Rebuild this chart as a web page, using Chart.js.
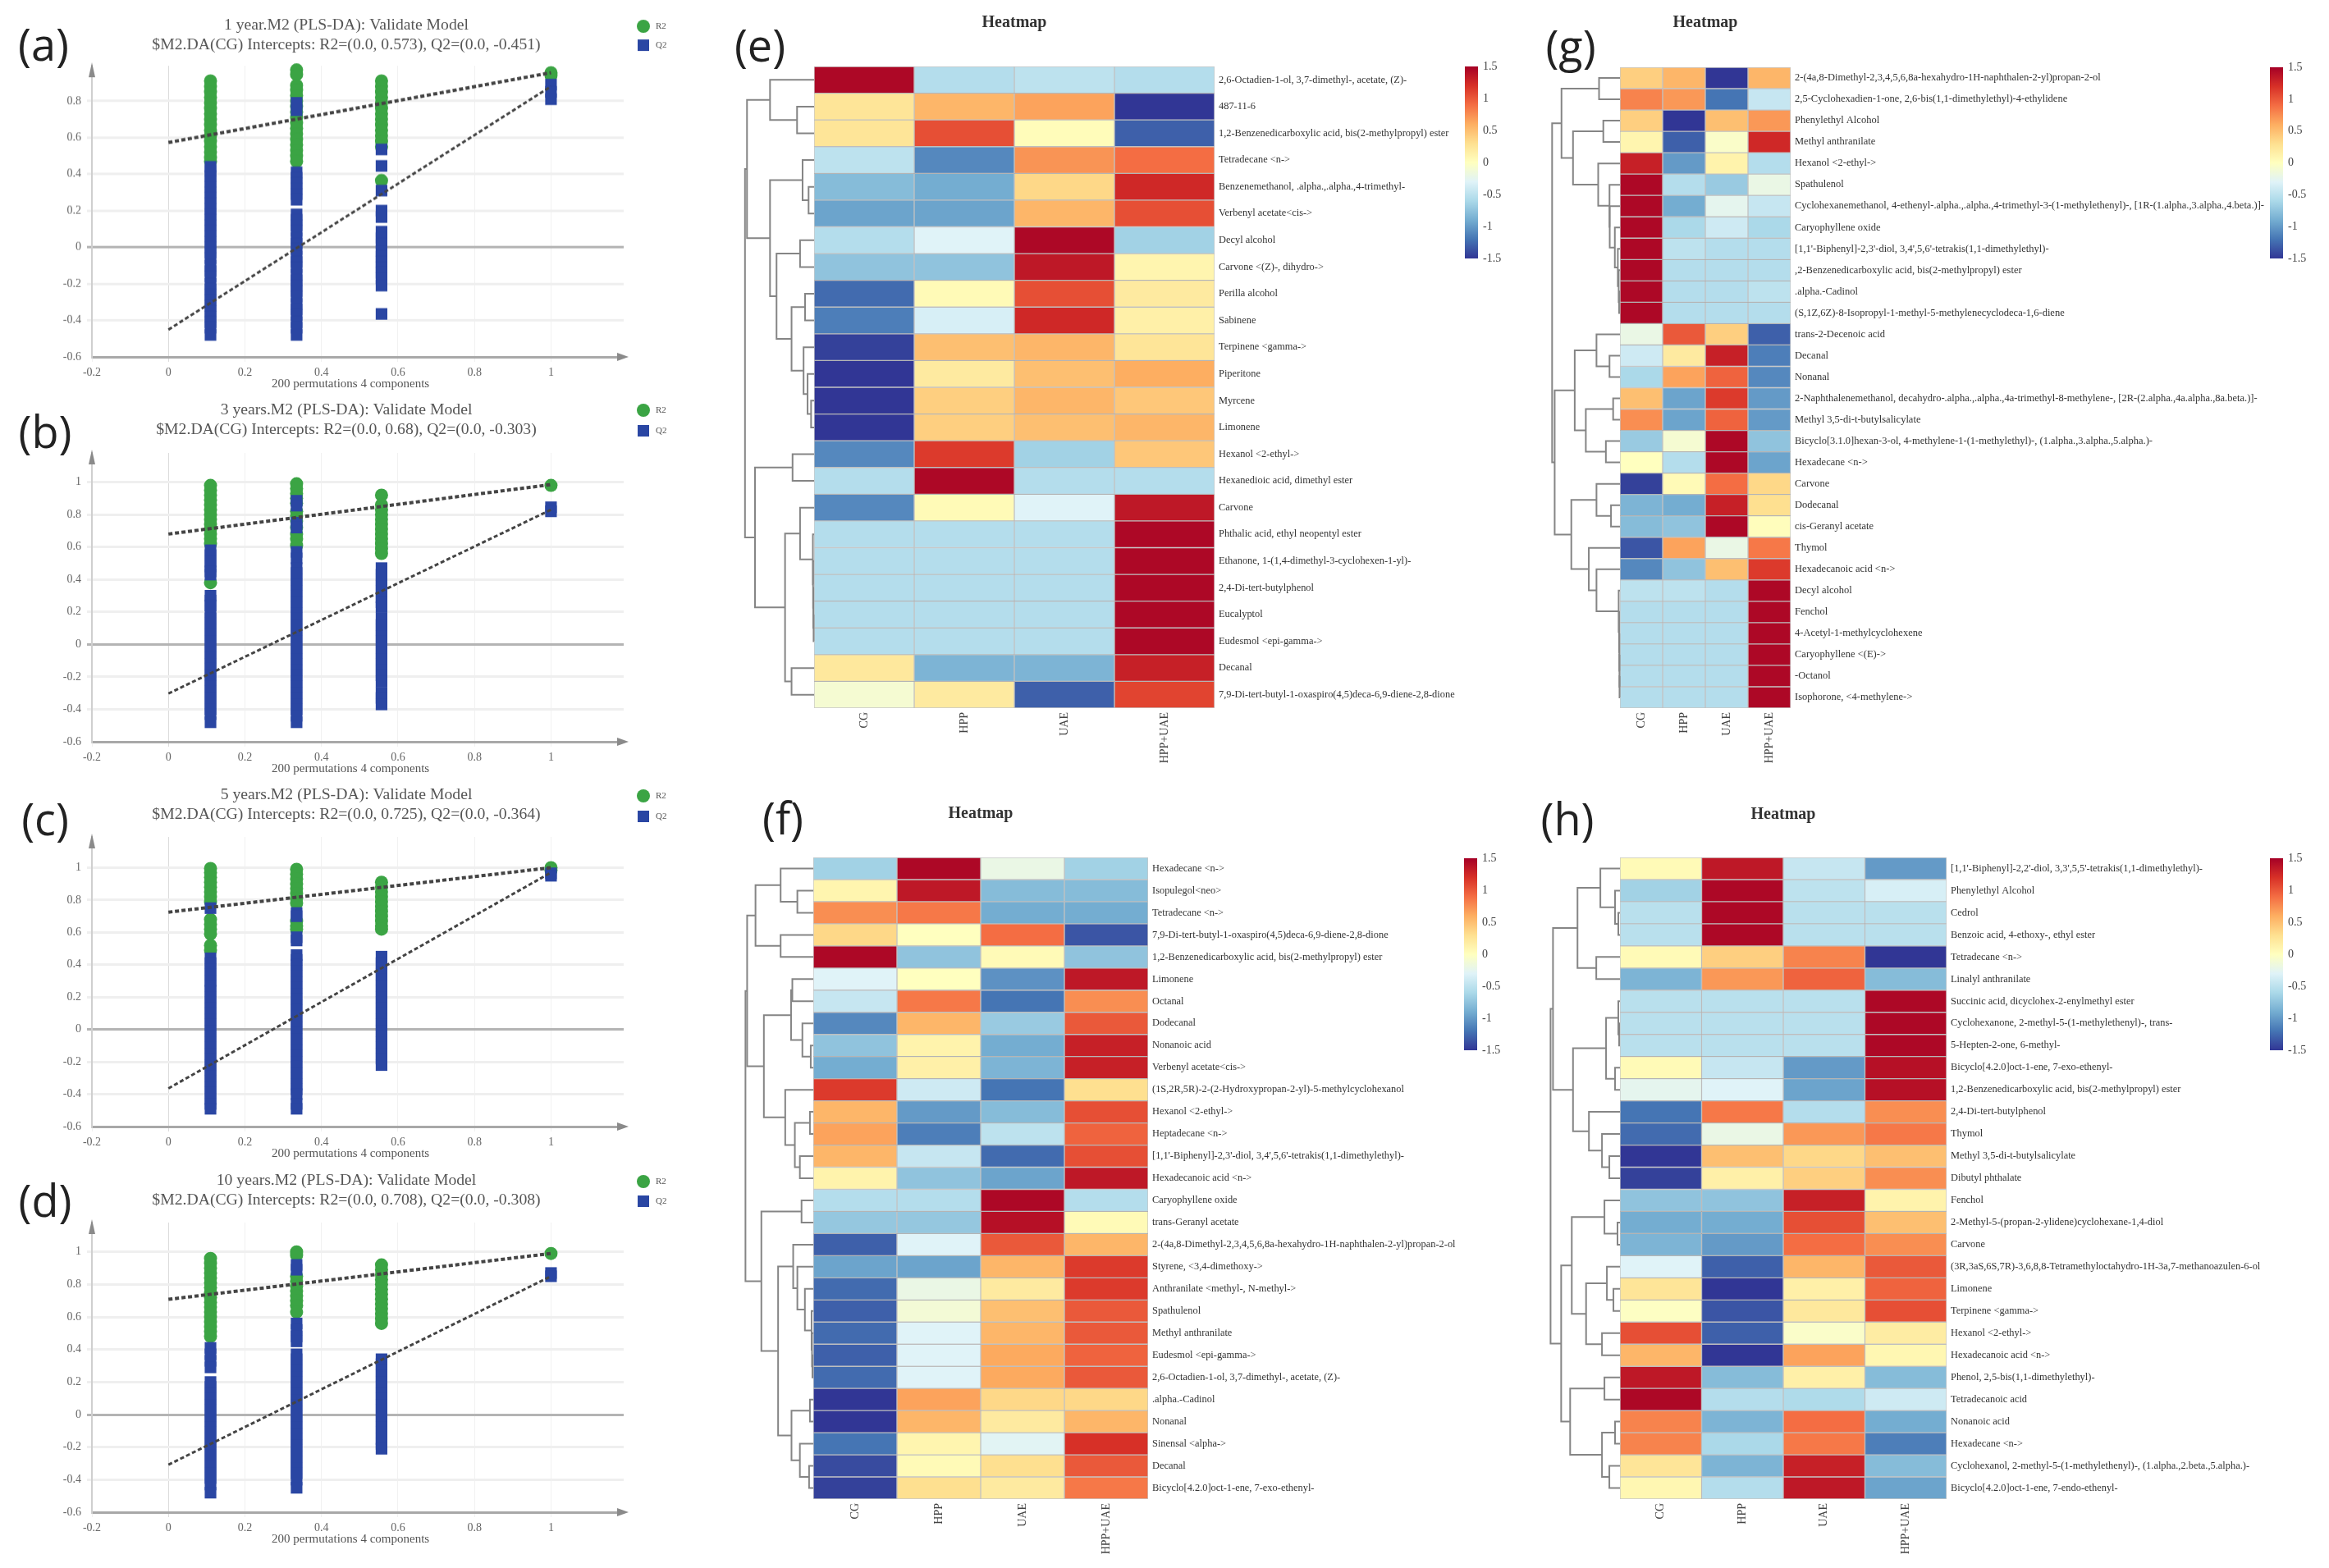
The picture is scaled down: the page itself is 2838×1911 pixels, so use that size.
<!DOCTYPE html>
<html>
<head>
<meta charset="utf-8">
<title>PLS-DA validation and heatmaps</title>
<script src="https://cdn.jsdelivr.net/npm/chart.js@4/dist/chart.umd.min.js"></script>
<style>
    html, body { margin: 0; padding: 0; background: #fff; }
    #page { position: relative; width: 2838px; height: 1911px; overflow: hidden; }
    canvas { position: absolute; }
    .letter { position: absolute; transform: translate(-50%, -50%); font: 54px "Open Sans", sans-serif; color: #222; }
</style>
</head>
<body>
<div id="page"></div>
<script>
// ---- Permutation plots: one list per x position ----
const permX = [0.11, 0.335, 0.557, 1];
const xTicks = [-0.2, 0, 0.2, 0.4, 0.6, 0.8, 1];
const yTicksShort = [-0.6, -0.4, -0.2, 0, 0.2, 0.4, 0.6, 0.8];
const yTicksLong = [-0.6, -0.4, -0.2, 0, 0.2, 0.4, 0.6, 0.8, 1];

const r2A = [
    [.91,.88,.85,.82,.79,.76,.73,.70,.67,.64,.61,.58,.55,.52,.49,.47],
    [.97,.945,.885,.86,.83,.80,.77,.74,.71,.68,.65,.62,.59,.56,.53,.50,.47],
    [.91,.88,.85,.82,.79,.76,.73,.70,.67,.64,.61,.58,.55,.365],
    [.955,.94]
];
const q2A = [
    [.44,.42,.39,.36,.33,.30,.27,.24,.21,.18,.15,.12,.09,.06,.03,0,-.03,-.06,-.10,-.13,-.16,-.20,-.23,-.26,-.29,-.32,-.35,-.38,-.41,-.44,-.48],
    [.79,.75,.41,.38,.35,.32,.29,.26,.18,.15,.12,.09,.05,.02,-.01,-.05,-.08,-.11,-.15,-.18,-.21,-.24,-.27,-.31,-.34,-.37,-.41,-.44,-.48],
    [.535,.445,.31,.20,.165,.085,.05,.02,-.02,-.05,-.08,-.11,-.14,-.17,-.21,-.365],
    [.89,.85,.81]
];
const r2B = [
    [.98,.95,.92,.89,.86,.83,.80,.77,.74,.71,.68,.65,.62,.38],
    [.99,.96,.93,.90,.87,.82,.79,.76,.72,.68,.65,.61],
    [.92,.86,.83,.80,.77,.74,.71,.68,.65,.62,.59,.56],
    [.98]
];
const q2B = [
    [.58,.55,.51,.48,.45,.43,.30,.27,.24,.20,.16,.13,.09,.06,.02,-.01,-.05,-.08,-.12,-.15,-.19,-.22,-.26,-.29,-.33,-.36,-.40,-.43,-.48],
    [.885,.855,.75,.72,.57,.53,.47,.44,.40,.37,.33,.30,.26,.23,.19,.16,.12,.09,.05,.02,-.02,-.05,-.09,-.12,-.16,-.19,-.23,-.26,-.30,-.33,-.37,-.40,-.44,-.48],
    [.47,.43,.40,.36,.33,.29,.26,.23,.16,.12,.09,.05,.02,-.02,-.05,-.09,-.12,-.16,-.19,-.23,-.30,-.33,-.37],
    [.845,.82]
];
const r2C = [
    [.995,.97,.94,.91,.88,.85,.82,.79,.68,.65,.62,.59,.52,.49],
    [.99,.96,.93,.90,.87,.84,.81,.78,.67,.64,.62],
    [.91,.88,.85,.82,.79,.76,.73,.70,.67,.64,.62],
    [1.0,.985]
];
const q2C = [
    [.75,.44,.41,.37,.34,.30,.27,.24,.20,.17,.13,.10,.06,.03,-.01,-.04,-.08,-.11,-.15,-.18,-.22,-.25,-.29,-.32,-.36,-.39,-.43,-.46,-.49],
    [.72,.70,.57,.55,.46,.43,.40,.36,.33,.29,.26,.22,.19,.15,.12,.08,.05,.01,-.02,-.06,-.09,-.13,-.16,-.20,-.23,-.27,-.30,-.34,-.37,-.40,-.46,-.49],
    [.45,.41,.38,.34,.31,.27,.24,.20,.17,.13,.10,.06,.03,-.01,-.04,-.08,-.11,-.15,-.18,-.22],
    [.965,.95]
];
const r2D = [
    [.96,.93,.90,.87,.84,.81,.78,.75,.72,.69,.66,.63,.60,.57,.54,.51,.48],
    [1.0,.98,.85,.82,.79,.76,.73,.70,.67,.63],
    [.92,.89,.86,.83,.80,.77,.74,.71,.68,.65,.62,.59,.56],
    [.99]
];
const q2D = [
    [.41,.37,.33,.29,.20,.17,.13,.10,.06,.03,-.01,-.04,-.08,-.11,-.15,-.18,-.22,-.25,-.29,-.32,-.36,-.39,-.43,-.48],
    [.92,.89,.56,.52,.48,.45,.37,.34,.30,.27,.23,.20,.16,.13,.09,.06,.02,-.01,-.05,-.08,-.12,-.15,-.19,-.22,-.26,-.29,-.33,-.36,-.40,-.45],
    [.34,.31,.27,.24,.20,.17,.13,.10,.06,.03,-.01,-.04,-.08,-.11,-.15,-.18,-.21],
    [.87,.85]
];
// fitted lines: value at x=0 and at x=1
const r2LineA = [0.573, 0.955], q2LineA = [-0.451, 0.88];
const r2LineB = [0.68, 0.985], q2LineB = [-0.303, 0.83];
const r2LineC = [0.725, 1.0], q2LineC = [-0.364, 0.97];
const r2LineD = [0.708, 0.99], q2LineD = [-0.308, 0.85];

// ---- Heatmaps ----
const treatments = ['CG', 'HPP', 'UAE', 'HPP+UAE'];
const colorTicks = [-1.5, -1, -0.5, 0, 0.5, 1, 1.5];
const rampColors = ['#313695','#4575b4','#74add1','#abd9e9','#e0f3f8','#ffffbf','#fee090','#fdae61','#f46d43','#d73027','#a50026'];

const namesE = ['2,6-Octadien-1-ol, 3,7-dimethyl-, acetate, (Z)-','487-11-6','1,2-Benzenedicarboxylic acid, bis(2-methylpropyl) ester','Tetradecane <n->','Benzenemethanol, .alpha.,.alpha.,4-trimethyl-','Verbenyl acetate<cis->','Decyl alcohol','Carvone <(Z)-, dihydro->','Perilla alcohol','Sabinene','Terpinene <gamma->','Piperitone','Myrcene','Limonene','Hexanol <2-ethyl->','Hexanedioic acid, dimethyl ester','Carvone','Phthalic acid, ethyl neopentyl ester','Ethanone, 1-(1,4-dimethyl-3-cyclohexen-1-yl)-','2,4-Di-tert-butylphenol','Eucalyptol','Eudesmol <epi-gamma->','Decanal','7,9-Di-tert-butyl-1-oxaspiro(4,5)deca-6,9-diene-2,8-dione'];
const heatE = [
    [1.45,-.55,-.5,-.55],[.25,.55,.65,-1.5],[.25,1.05,.03,-1.3],[-.5,-1.1,.72,.9],[-.8,-.9,.35,1.25],[-.95,-.95,.55,1.05],
    [-.55,-.3,1.45,-.65],[-.75,-.75,1.35,.1],[-1.25,.05,1.05,.2],[-1.15,-.35,1.25,.15],[-1.45,.5,.55,.25],[-1.5,.2,.5,.6],
    [-1.5,.4,.55,.45],[-1.5,.4,.5,.55],[-1.1,1.15,-.65,.45],[-.55,1.45,-.55,-.55],[-1.1,.05,-.3,1.35],[-.55,-.55,-.55,1.45],
    [-.55,-.55,-.55,1.45],[-.55,-.55,-.55,1.45],[-.55,-.55,-.55,1.45],[-.55,-.55,-.55,1.45],[.22,-.85,-.85,1.3],[-.1,.2,-1.3,1.1]
];
const treeE = [.69,
    [.67, [.44, 0, [.17, 1, 2]],
          [.44, [.115, 3, [.055, 4, 5]], [.375, [.14, 6, 7], [.225, [.09, 8, 9], [.105, 10, [.065, 11, [.03, 12, 13]]]]]]],
    [.59, [.215, 14, 15],
          [.29, [.14, 16, [.012, 17, [.01, 18, [.008, 19, [.005, 20, 21]]]]], [.225, 22, 23]]]];

const namesF = ['Hexadecane <n->','Isopulegol<neo>','Tetradecane <n->','7,9-Di-tert-butyl-1-oxaspiro(4,5)deca-6,9-diene-2,8-dione','1,2-Benzenedicarboxylic acid, bis(2-methylpropyl) ester','Limonene','Octanal','Dodecanal','Nonanoic acid','Verbenyl acetate<cis->','(1S,2R,5R)-2-(2-Hydroxypropan-2-yl)-5-methylcyclohexanol','Hexanol <2-ethyl->','Heptadecane <n->','[1,1\'-Biphenyl]-2,3\'-diol, 3,4\',5,6\'-tetrakis(1,1-dimethylethyl)-','Hexadecanoic acid <n->','Caryophyllene oxide','trans-Geranyl acetate','2-(4a,8-Dimethyl-2,3,4,5,6,8a-hexahydro-1H-naphthalen-2-yl)propan-2-ol','Styrene, <3,4-dimethoxy->','Anthranilate <methyl-, N-methyl->','Spathulenol','Methyl anthranilate','Eudesmol <epi-gamma->','2,6-Octadien-1-ol, 3,7-dimethyl-, acetate, (Z)-','.alpha.-Cadinol','Nonanal','Sinensal <alpha->','Decanal','Bicyclo[4.2.0]oct-1-ene, 7-exo-ethenyl-'];
const heatF = [
    [-.65,1.45,-.2,-.65],[.1,1.35,-.8,-.8],[.75,.85,-.9,-.9],[.35,0,.9,-1.35],[1.45,-.75,.05,-.75],[-.3,0,-1.05,1.35],
    [-.45,.85,-1.2,.75],[-1.1,.55,-.7,1.0],[-.75,.12,-.9,1.3],[-.9,.15,-.85,1.3],[1.15,-.4,-1.2,.3],[.55,-1.0,-.8,1.05],
    [.65,-1.15,-.5,.95],[.55,-.45,-1.25,1.05],[.12,-.75,-.95,1.35],[-.55,-.55,1.45,-.55],[-.72,-.72,1.4,.05],[-1.3,-.3,1.0,.55],
    [-.95,-.95,.55,1.15],[-1.25,-.2,.2,1.15],[-1.3,-.12,.5,1.0],[-1.25,-.3,.55,1.0],[-1.3,-.3,.62,.95],[-1.25,-.3,.62,1.0],
    [-1.5,.65,.35,.35],[-1.5,.55,.2,.55],[-1.2,.1,-.28,1.2],[-1.4,.05,.3,1.0],[-1.45,.3,.2,.85]
];
const treeF = [.81,
    [.79, [.69, [.39, 0, [.19, 1, 2]], [.39, 3, 4]],
          [.59, [.265, [.25, 5, 6], [.13, 7, [.03, 8, 9]]],
                [.335, 10, [.22, [.04, 11, 12], [.16, 13, 14]]]]],
    [.62, [.14, 15, 16],
          [.42, [.24, 17, [.19, 18, [.1, 19, [.02, 20, [.015, 21, [.01, 22, 23]]]]]],
                [.26, [.04, 24, 25], [.16, 26, [.05, 27, 28]]]]]];

const namesG = ['2-(4a,8-Dimethyl-2,3,4,5,6,8a-hexahydro-1H-naphthalen-2-yl)propan-2-ol','2,5-Cyclohexadien-1-one, 2,6-bis(1,1-dimethylethyl)-4-ethylidene','Phenylethyl Alcohol','Methyl anthranilate','Hexanol <2-ethyl->','Spathulenol','Cyclohexanemethanol, 4-ethenyl-.alpha.,.alpha.,4-trimethyl-3-(1-methylethenyl)-, [1R-(1.alpha.,3.alpha.,4.beta.)]-','Caryophyllene oxide','[1,1\'-Biphenyl]-2,3\'-diol, 3,4\',5,6\'-tetrakis(1,1-dimethylethyl)-',',2-Benzenedicarboxylic acid, bis(2-methylpropyl) ester','.alpha.-Cadinol','(S,1Z,6Z)-8-Isopropyl-1-methyl-5-methylenecyclodeca-1,6-diene','trans-2-Decenoic acid','Decanal','Nonanal','2-Naphthalenemethanol, decahydro-.alpha.,.alpha.,4a-trimethyl-8-methylene-, [2R-(2.alpha.,4a.alpha.,8a.beta.)]-','Methyl 3,5-di-t-butylsalicylate','Bicyclo[3.1.0]hexan-3-ol, 4-methylene-1-(1-methylethyl)-, (1.alpha.,3.alpha.,5.alpha.)-','Hexadecane <n->','Carvone','Dodecanal','cis-Geranyl acetate','Thymol','Hexadecanoic acid <n->','Decyl alcohol','Fenchol','4-Acetyl-1-methylcyclohexene','Caryophyllene <(E)->','-Octanol','Isophorone, <4-methylene->'];
const heatG = [
    [.4,.55,-1.5,.55],[.8,.7,-1.2,-.45],[.4,-1.5,.5,.7],[.1,-1.3,-.05,1.25],[1.3,-1.0,.12,-.55],[1.45,-.55,-.7,-.2],
    [1.45,-.9,-.25,-.45],[1.45,-.6,-.4,-.6],[1.45,-.5,-.55,-.55],[1.45,-.55,-.55,-.55],[1.45,-.55,-.55,-.5],[1.45,-.55,-.55,-.55],
    [-.2,1.0,.4,-1.3],[-.4,.2,1.3,-1.15],[-.6,.65,.95,-1.1],[.5,-.95,1.15,-1.0],[.75,-.95,.95,-1.0],[-.7,-.1,1.45,-.75],
    [0,-.55,1.45,-.95],[-1.45,.05,.9,.35],[-.85,-.9,1.3,.3],[-.8,-.75,1.45,.02],[-1.35,.65,-.2,.85],[-1.1,-.75,.5,1.15],
    [-.5,-.5,-.55,1.45],[-.55,-.55,-.55,1.45],[-.55,-.55,-.55,1.45],[-.55,-.55,-.55,1.45],[-.55,-.55,-.55,1.45],[-.55,-.55,-.55,1.45]
];
const treeG = [1.59,
    [1.37, [.49, 0, 1],
           [1.1, [.39, 2, 3], [.51, 4, [.245, 5, [.24, 6, [.12, 7, [.05, 8, [.03, 9, [.02, 10, 11]]]]]]]]],
    [1.53, [1.06, [.55, 12, [.245, 13, 14]], [.8, [.16, 15, 16], [.33, 17, 18]]],
           [1.14, [.55, 19, [.21, 20, 21]], [.73, 22, [.55, 23, [.03, 24, [.02, 25, [.015, 26, [.012, 27, [.01, 28, 29]]]]]]]]]];

const namesH = ['[1,1\'-Biphenyl]-2,2\'-diol, 3,3\',5,5\'-tetrakis(1,1-dimethylethyl)-','Phenylethyl Alcohol','Cedrol','Benzoic acid, 4-ethoxy-, ethyl ester','Tetradecane <n->','Linalyl anthranilate','Succinic acid, dicyclohex-2-enylmethyl ester','Cyclohexanone, 2-methyl-5-(1-methylethenyl)-, trans-','5-Hepten-2-one, 6-methyl-','Bicyclo[4.2.0]oct-1-ene, 7-exo-ethenyl-','1,2-Benzenedicarboxylic acid, bis(2-methylpropyl) ester','2,4-Di-tert-butylphenol','Thymol','Methyl 3,5-di-t-butylsalicylate','Dibutyl phthalate','Fenchol','2-Methyl-5-(propan-2-ylidene)cyclohexane-1,4-diol','Carvone','(3R,3aS,6S,7R)-3,6,8,8-Tetramethyloctahydro-1H-3a,7-methanoazulen-6-ol','Limonene','Terpinene <gamma->','Hexanol <2-ethyl->','Hexadecanoic acid <n->','Phenol, 2,5-bis(1,1-dimethylethyl)-','Tetradecanoic acid','Nonanoic acid','Hexadecane <n->','Cyclohexanol, 2-methyl-5-(1-methylethenyl)-, (1.alpha.,2.beta.,5.alpha.)-','Bicyclo[4.2.0]oct-1-ene, 7-endo-ethenyl-'];
const heatH = [
    [.05,1.35,-.45,-1.0],[-.65,1.45,-.5,-.35],[-.52,1.45,-.52,-.52],[-.52,1.45,-.52,-.52],[.05,.4,.8,-1.5],[-.85,.7,.95,-.8],
    [-.52,-.52,-.52,1.45],[-.52,-.52,-.52,1.45],[-.52,-.52,-.52,1.45],[.05,-.45,-1.0,1.4],[-.25,-.3,-.95,1.4],[-1.2,.85,-.55,.75],
    [-1.25,-.2,.7,.85],[-1.5,.5,.35,.5],[-1.45,.15,.4,.75],[-.75,-.75,1.3,.12],[-.9,-.9,1.05,.5],[-.85,-1.0,.9,.75],
    [-.3,-1.3,.55,1.0],[.25,-1.5,.15,.95],[-.02,-1.35,.22,1.05],[1.05,-1.3,-.05,.18],[.55,-1.5,.65,.08],[1.35,-.8,.15,-.8],
    [1.45,-.55,-.58,-.4],[.8,-.85,.9,-.9],[.8,-.6,.85,-1.15],[.25,-.85,1.3,-.8],[.08,-.55,1.35,-.95]
];
const treeH = [.85,
    [.82, [.52, [.24, 0, [.06, 1, [.02, 2, 3]]], [.29, 4, 5]],
          [.575, [.17, [.02, 6, [.01, 7, 8]], [.06, 9, 10]], [.38, 11, [.22, 12, [.13, 13, 14]]]]],
    [.72, [.59, [.19, 15, [.03, 16, 17]], [.415, [.16, 18, [.08, 19, 20]], [.22, 21, 22]]],
          [.61, [.19, 23, 24], [.22, [.06, 25, 26], [.13, 27, 28]]]]];

// ---- Helpers ----
const page = document.getElementById('page');
const SERIF = '"Liberation Serif", serif';
const GREEN = '#3ba444', BLUE = '#2a46a3';

function addCanvas(left, top, width, height) {
    const c = document.createElement('canvas');
    c.width = width;
    c.height = height;
    c.style.left = left + 'px';
    c.style.top = top + 'px';
    c.style.width = width + 'px';
    c.style.height = height + 'px';
    page.appendChild(c);
    return c;
}

function addLetter(text, x, y) {
    const d = document.createElement('div');
    d.className = 'letter';
    d.textContent = text;
    d.style.left = x + 'px';
    d.style.top = y + 'px';
    page.appendChild(d);
}

// keep the axis box at a set size so the plot area lands where we want it
function fixBox(size) {
    return s => {
        if (s.isHorizontal()) s.height = size; else s.width = size;
        s.paddingLeft = s.paddingRight = s.paddingTop = s.paddingBottom = 0;
    };
}

function hexToRgb(h) {
    return [1, 3, 5].map(i => parseInt(h.substr(i, 2), 16));
}

function colorFor(v) {
    const t = Math.max(0, Math.min(1, (v + 1.5) / 3)) * (rampColors.length - 1);
    const i = Math.min(Math.floor(t), rampColors.length - 2);
    const a = hexToRgb(rampColors[i]), b = hexToRgb(rampColors[i + 1]);
    const f = t - i;
    return `rgb(${a.map((c, k) => Math.round(c + (b[k] - c) * f)).join(',')})`;
}

// ---- Permutation panel ----
const permDecor = {
    id: 'permDecor',
    afterDraw(chart, args, opts) {
        const { ctx, scales: { x, y } } = chart;
        ctx.save();
        // arrow heads on both axes
        ctx.fillStyle = '#8a8a8a';
        const xr = x.right, yb = y.bottom, yt = y.top, xl = x.left;
        ctx.beginPath();
        ctx.moveTo(xr + 6, yb); ctx.lineTo(xr - 8, yb - 5); ctx.lineTo(xr - 8, yb + 5);
        ctx.fill();
        ctx.beginPath();
        ctx.moveTo(xl, yt - 4); ctx.lineTo(xl - 4, yt + 14); ctx.lineTo(xl + 4, yt + 14);
        ctx.fill();
        // x axis title
        ctx.fillStyle = '#555';
        ctx.font = '15px ' + SERIF;
        ctx.textAlign = 'center';
        ctx.textBaseline = 'middle';
        ctx.fillText('200 permutations 4 components', x.getPixelForValue(0.476), yb + 33);
        // legend
        const lx = 784;
        ctx.fillStyle = GREEN;
        ctx.beginPath();
        ctx.arc(lx, opts.legendY[0], 8, 0, Math.PI * 2);
        ctx.fill();
        ctx.fillStyle = BLUE;
        ctx.fillRect(lx - 7, opts.legendY[1] - 7, 14, 14);
        ctx.fillStyle = '#555';
        ctx.font = '11px ' + SERIF;
        ctx.textAlign = 'left';
        ctx.fillText('R2', lx + 15, opts.legendY[0]);
        ctx.fillText('Q2', lx + 15, opts.legendY[1]);
        ctx.restore();
    }
};

function pointsFrom(cols) {
    const out = [];
    cols.forEach((vals, i) => vals.forEach(v => out.push({ x: permX[i], y: v })));
    return out;
}

function permPanel(p) {
    const lineH = 24, titleH = lineH * 2;
    const height = p.plotBottom + 46 - p.top;
    const c = addCanvas(0, p.top, 844, height);
    new Chart(c, {
        data: {
            datasets: [
                { type: 'line', label: 'R2 fit', order: 0, data: [{ x: 0, y: p.r2Line[0] }, { x: 1, y: p.r2Line[1] }],
                  borderColor: '#444', borderWidth: 4, borderDash: [5, 3], pointRadius: 0 },
                { type: 'line', label: 'Q2 fit', order: 0, data: [{ x: 0, y: p.q2Line[0] }, { x: 1, y: p.q2Line[1] }],
                  borderColor: '#444', borderWidth: 3, borderDash: [5, 3], pointRadius: 0 },
                { type: 'scatter', label: 'Q2', order: 1, data: pointsFrom(p.q2), pointStyle: 'rect', pointRadius: 10,
                  pointBackgroundColor: BLUE, pointBorderWidth: 0, clip: false },
                { type: 'scatter', label: 'R2', order: 2, data: pointsFrom(p.r2), pointStyle: 'circle', pointRadius: 8,
                  pointBackgroundColor: GREEN, pointBorderWidth: 0, clip: false }
            ]
        },
        options: {
            responsive: false,
            animation: false,
            plugins: {
                legend: { display: false },
                tooltip: { enabled: false },
                title: {
                    display: true,
                    text: p.title,
                    color: '#555',
                    font: { family: SERIF, size: 19.7, weight: 'normal', lineHeight: lineH + 'px' },
                    padding: { top: 0, bottom: p.plotTop - p.top - titleH }
                },
                permDecor: { legendY: p.legendY }
            },
            scales: {
                x: {
                    type: 'linear',
                    min: -0.2,
                    max: 1.19,
                    afterBuildTicks: s => { s.ticks = xTicks.map(v => ({ value: v })); },
                    afterFit: fixBox(46),
                    border: { color: '#a8a8a8', width: 3 },
                    grid: {
                        tickLength: 6,
                        lineWidth: 1,
                        color: ctx => (ctx.tick && ctx.tick.value === 0 ? '#dcdcdc' : '#f1f1f1')
                    },
                    ticks: { color: '#666', padding: 5, font: { family: SERIF, size: 14 }, autoSkip: false, maxRotation: 0, callback: v => String(v) }
                },
                y: {
                    type: 'linear',
                    min: -0.6,
                    max: p.yMax,
                    afterBuildTicks: s => { s.ticks = p.yTicks.map(v => ({ value: v })); },
                    afterFit: fixBox(112),
                    border: { color: '#cfcfcf', width: 2 },
                    grid: {
                        tickLength: 6,
                        lineWidth: ctx => 3,
                        color: ctx => {
                            const v = ctx.tick && ctx.tick.value;
                            if (v === 0) return '#b4b4b4';
                            return v === -0.6 ? 'rgba(0,0,0,0)' : '#efefef';
                        }
                    },
                    ticks: { color: '#666', padding: 7, font: { family: SERIF, size: 14 }, autoSkip: false, callback: v => String(v) }
                },
                // empty axis on the right: holds the legend margin, while the title still centres on the whole canvas
                yRight: {
                    type: 'linear',
                    position: 'right',
                    afterFit: fixBox(84),
                    grid: { display: false, drawTicks: false },
                    border: { display: false },
                    ticks: { display: false }
                }
            }
        },
        plugins: [permDecor]
    });
}

// ---- Heatmap panel ----
const dendro = {
    id: 'dendro',
    afterDraw(chart, args, opts) {
        const { ctx, scales: { x, y } } = chart;
        ctx.save();
        ctx.strokeStyle = '#858585';
        ctx.lineWidth = 2;
        // heights are in column widths, drawn left of the first column
        const walk = node => {
            if (typeof node === 'number') return { px: x.getPixelForValue(0), py: y.getPixelForValue(node) };
            const [h, a, b] = node;
            const A = walk(a), B = walk(b);
            const px = x.getPixelForValue(-h);
            ctx.beginPath();
            ctx.moveTo(A.px, A.py); ctx.lineTo(px, A.py); ctx.lineTo(px, B.py); ctx.lineTo(B.px, B.py);
            ctx.stroke();
            return { px, py: (A.py + B.py) / 2 };
        };
        walk(opts.tree);
        ctx.restore();
    }
};

function heatPanel(p) {
    const titleTop = p.titleY - 12;
    const c = addCanvas(p.left - 100, titleTop, 100 + (p.right - p.left) + p.labelW, p.bottom + 90 - titleTop);
    const datasets = treatments.map((t, j) => ({
        label: t,
        data: p.names.map(() => [j, j + 1]),
        backgroundColor: p.values.map(row => colorFor(row[j])),
        borderColor: 'rgba(115,115,115,0.4)',
        borderWidth: 1,
        borderSkipped: false,
        barPercentage: 1,
        categoryPercentage: 1,
        grouped: false
    }));
    new Chart(c, {
        type: 'bar',
        data: { labels: p.names, datasets },
        options: {
            indexAxis: 'y',
            responsive: false,
            animation: false,
            layout: { padding: { left: 100 } },
            plugins: {
                legend: { display: false },
                tooltip: { enabled: false },
                title: {
                    display: true,
                    text: 'Heatmap',
                    fullSize: false,
                    color: '#333',
                    font: { family: SERIF, size: 20, weight: 'bold', lineHeight: '24px' },
                    padding: { top: 0, bottom: p.top - titleTop - 24 }
                },
                dendro: { tree: p.tree }
            },
            scales: {
                x: {
                    type: 'linear',
                    min: 0,
                    max: 4,
                    afterBuildTicks: s => { s.ticks = treatments.map((t, j) => ({ value: j + 0.5 })); },
                    afterFit: fixBox(90),
                    grid: { display: false, drawTicks: false },
                    border: { display: false },
                    ticks: {
                        color: '#444',
                        padding: 5,
                        autoSkip: false,
                        minRotation: 90,
                        maxRotation: 90,
                        font: { family: SERIF, size: 14 },
                        callback: v => treatments[Math.floor(v)]
                    }
                },
                y: {
                    type: 'category',
                    position: 'right',
                    afterFit: fixBox(p.labelW),
                    grid: { display: false, drawTicks: false },
                    border: { display: false },
                    ticks: { color: '#333', padding: 5, autoSkip: false, font: { family: SERIF, size: p.fontSize } }
                }
            }
        },
        plugins: [dendro]
    });
}

function colorBar(x, top, bottom) {
    const c = addCanvas(x, top - 10, 60, bottom - top + 20);
    new Chart(c, {
        type: 'bar',
        data: {
            labels: ['scale'],
            datasets: [{
                data: [[-1.5, 1.5]],
                barPercentage: 1,
                categoryPercentage: 1,
                backgroundColor: ctx => {
                    const area = ctx.chart.chartArea;
                    if (!area) return rampColors[0];
                    const g = ctx.chart.ctx.createLinearGradient(0, area.bottom, 0, area.top);
                    rampColors.forEach((col, i) => g.addColorStop(i / (rampColors.length - 1), col));
                    return g;
                }
            }]
        },
        options: {
            responsive: false,
            animation: false,
            layout: { padding: { top: 10, bottom: 10 } },
            plugins: { legend: { display: false }, tooltip: { enabled: false } },
            scales: {
                x: { display: false },
                y: {
                    type: 'linear',
                    position: 'right',
                    min: -1.5,
                    max: 1.5,
                    afterBuildTicks: s => { s.ticks = colorTicks.map(v => ({ value: v })); },
                    afterFit: fixBox(44),
                    grid: { display: false, drawTicks: false },
                    border: { display: false },
                    ticks: { color: '#444', padding: 6, autoSkip: false, font: { family: SERIF, size: 14 }, callback: v => String(v) }
                }
            }
        }
    });
}

// ---- Page ----
permPanel({ top: 19, plotTop: 80, plotBottom: 434.5, yMax: 0.993, yTicks: yTicksShort, legendY: [13, 36],
    title: ['1 year.M2 (PLS-DA): Validate Model', '$M2.DA(CG) Intercepts: R2=(0.0, 0.573), Q2=(0.0, -0.451)'],
    r2: r2A, q2: q2A, r2Line: r2LineA, q2Line: q2LineA });
permPanel({ top: 488, plotTop: 552, plotBottom: 904, yMax: 1.18, yTicks: yTicksLong, legendY: [12, 37],
    title: ['3 years.M2 (PLS-DA): Validate Model', '$M2.DA(CG) Intercepts: R2=(0.0, 0.68), Q2=(0.0, -0.303)'],
    r2: r2B, q2: q2B, r2Line: r2LineB, q2Line: q2LineB });
permPanel({ top: 957, plotTop: 1020, plotBottom: 1373, yMax: 1.19, yTicks: yTicksLong, legendY: [13, 38],
    title: ['5 years.M2 (PLS-DA): Validate Model', '$M2.DA(CG) Intercepts: R2=(0.0, 0.725), Q2=(0.0, -0.364)'],
    r2: r2C, q2: q2C, r2Line: r2LineC, q2Line: q2LineC });
permPanel({ top: 1427, plotTop: 1490, plotBottom: 1843, yMax: 1.18, yTicks: yTicksLong, legendY: [13, 37],
    title: ['10 years.M2 (PLS-DA): Validate Model', '$M2.DA(CG) Intercepts: R2=(0.0, 0.708), Q2=(0.0, -0.308)'],
    r2: r2D, q2: q2D, r2Line: r2LineD, q2Line: q2LineD });

heatPanel({ left: 992, right: 1480, top: 81, bottom: 863, titleY: 28, labelW: 310, fontSize: 12.4, names: namesE, values: heatE, tree: treeE });
heatPanel({ left: 991, right: 1399, top: 1045, bottom: 1827, titleY: 992, labelW: 390, fontSize: 12.4, names: namesF, values: heatF, tree: treeF });
heatPanel({ left: 1974, right: 2182, top: 82, bottom: 863, titleY: 28, labelW: 590, fontSize: 12.5, names: namesG, values: heatG, tree: treeG });
heatPanel({ left: 1974, right: 2372, top: 1045, bottom: 1827, titleY: 993, labelW: 390, fontSize: 12.4, names: namesH, values: heatH, tree: treeH });

colorBar(1785, 81, 315);
colorBar(1784, 1046, 1280);
colorBar(2766, 82, 315);
colorBar(2766, 1046, 1280);

addLetter('(a)', 53, 53);
addLetter('(b)', 55, 525);
addLetter('(c)', 55, 997);
addLetter('(d)', 55, 1462);
addLetter('(e)', 926, 54);
addLetter('(f)', 954, 996);
addLetter('(g)', 1914, 55);
addLetter('(h)', 1910, 997);
</script>
</body>
</html>
